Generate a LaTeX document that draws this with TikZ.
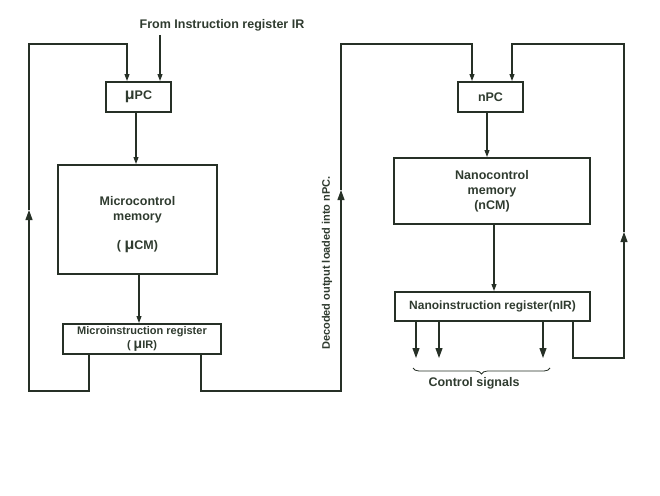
\documentclass[tikz,border=0pt]{standalone}
\usepackage{fontspec}
\setmainfont{Liberation Sans}
\usetikzlibrary{arrows.meta}
\usetikzlibrary{decorations.pathreplacing}
\definecolor{inkline}{HTML}{263026}
\definecolor{inktext}{HTML}{2F3B2F}

\begin{document}
\begin{tikzpicture}[x=1pt,y=-1pt,
		blk/.style={draw=inkline,line width=2pt,inner sep=0pt,align=center,text=inktext,font=\fontsize{12.5}{15}\selectfont\bfseries},
		lbl/.style={text=inktext,inner sep=0pt,align=center,font=\fontsize{12.5}{15}\selectfont\bfseries},
		wire/.style={draw=inkline,line width=1.1pt},
		arr/.style={wire,-{Triangle[length=7pt,width=5pt]}},
		bigarr/.style={wire,-{Triangle[length=10pt,width=7pt]}}]
	\useasboundingbox (0,0) rectangle (660,495);
	\node[lbl] (ir) at (222,25) {From Instruction register IR};
	\node[blk,minimum width=65pt,minimum height=30pt] (upc) at (138.5,97) {{\fontsize{16}{16}\selectfont μ}PC};
	\node[blk,minimum width=159pt,minimum height=109pt] (ucm) at (137.5,219.5) {};
	\node[lbl] (ucmtext) at ([yshift=-5pt]ucm.center) {Microcontrol\\memory\\[14pt]( {\fontsize{16}{16}\selectfont μ}CM)};
	\node[blk,minimum width=158pt,minimum height=30pt,font=\fontsize{11}{14}\selectfont\bfseries] (uir) at (142,339) {Microinstruction register\\( {\fontsize{14}{14}\selectfont μ}IR)};
	\node[blk,minimum width=65pt,minimum height=30pt] (npc) at (490.5,97) {nPC};
	\node[blk,minimum width=196pt,minimum height=66pt] (ncm) at (492,191) {Nanocontrol\\memory\\(nCM)};
	\node[blk,minimum width=195pt,minimum height=29pt,font=\fontsize{12}{14}\selectfont\bfseries] (nir) at (492.5,306.5) {Nanoinstruction register(nIR)};
	\node[lbl,rotate=90,font=\fontsize{11}{13}\selectfont\bfseries] (dec) at (327,263) {Decoded output loaded into nPC.};
	\node[lbl] (cs) at (474,383) {Control signals};
	\coordinate (irin) at (160,35);
	\coordinate (lup) at (29,210);
	\coordinate (mup) at (341,190);
	\coordinate (rup) at (624,232);

	\draw[arr] (irin) -- (irin |- upc.north);
	\draw[arr] ([xshift=-2.5]upc.south) -- ([xshift=-2.5]upc.south |- ucm.north);
	\draw[arr] ([xshift=1.5]ucm.south) -- ([xshift=1.5]ucm.south |- uir.north);
	\draw[arr] ([xshift=-3.5]npc.south) -- ([xshift=-3.5]npc.south |- ncm.north);
	\draw[arr] ([xshift=2]ncm.south) -- ([xshift=2]ncm.south |- nir.north);

	\draw[bigarr] ([xshift=27]uir.south west) |- (lup |- 0,391) -- (lup);
	\draw[arr] (lup) -- (lup |- 0,44) -| ([xshift=-11.5]upc.north);
	\draw[bigarr] ([xshift=-21]uir.south east) |- (mup |- 0,391) -- (mup);
	\draw[arr] (mup) -- (mup |- 0,44) -| ([xshift=-18.5]npc.north);
	\draw[bigarr] ([xshift=-18]nir.south east) |- (rup |- 0,358) -- (rup);
	\draw[arr] (rup) -- (rup |- 0,44) -| ([xshift=21.5]npc.north);

	\foreach \dx in {22,45,149}
		\draw[bigarr] ([xshift=\dx]nir.south west) -- ++(0,36);
	\draw[wire,line width=0.8pt,decorate,decoration={brace,mirror,amplitude=6pt}] (413,368) -- (550,368);
\end{tikzpicture}
\end{document}
